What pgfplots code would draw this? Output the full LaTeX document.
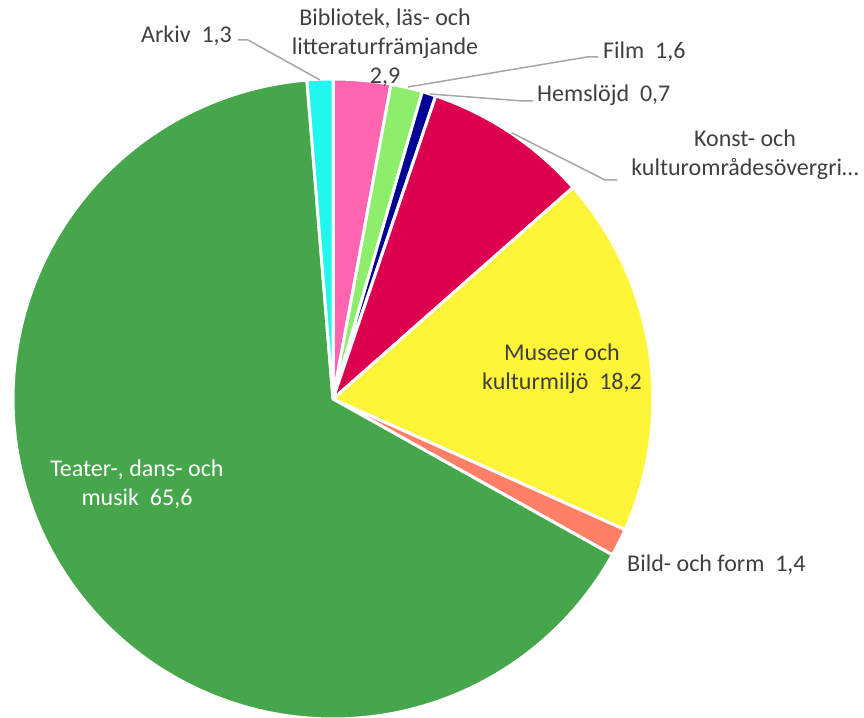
\documentclass[border=0pt]{standalone}
\usepackage{pgfplots}
\pgfplotsset{compat=1.18}
\usepackage{fontspec}
\setmainfont{Carlito}
\definecolor{cBib}{HTML}{FF66B2}
\definecolor{cFilm}{HTML}{8CEE6A}
\definecolor{cHem}{HTML}{000096}
\definecolor{cKonst}{HTML}{DC004E}
\definecolor{cMus}{HTML}{FFF538}
\definecolor{cBild}{HTML}{FF8066}
\definecolor{cTeat}{HTML}{46A64B}
\definecolor{cArk}{HTML}{20F7EE}
\definecolor{txt}{HTML}{404040}
\definecolor{lead}{HTML}{A6A6A6}
% values (percent), clockwise from 12 o'clock
\def\vBib{2.9}\def\vFilm{1.6}\def\vHem{0.7}\def\vKonst{8.3}
\def\vMus{18.2}\def\vBild{1.4}\def\vTeat{65.6}\def\vArk{1.3}
\pgfmathsetmacro\aA{90}
\pgfmathsetmacro\aB{\aA-3.6*\vBib}
\pgfmathsetmacro\aC{\aB-3.6*\vFilm}
\pgfmathsetmacro\aD{\aC-3.6*\vHem}
\pgfmathsetmacro\aE{\aD-3.6*\vKonst}
\pgfmathsetmacro\aF{\aE-3.6*\vMus}
\pgfmathsetmacro\aG{\aF-3.6*\vBild}
\pgfmathsetmacro\aH{\aG-3.6*\vTeat}
\pgfmathsetmacro\aI{\aH-3.6*\vArk}
\def\R{320}
\begin{document}
\begin{tikzpicture}
\useasboundingbox (0,0) rectangle (864bp,718bp);
\begin{axis}[
  at={(0,0)}, anchor=south west,
  width=864bp, height=718bp, scale only axis,
  xmin=-333, xmax=531, ymin=-319, ymax=399,
  hide axis, clip=false,
  every axis plot/.append style={line join=round},
]
\pgfplotsset{slice/.style={fill=#1, draw=white, line width=3bp, variable=\t, samples=120}}
\addplot[slice=cBib, domain=\aB:\aA] ({\R*cos(\t)},{\R*sin(\t)}) -- (axis cs:0,0) -- cycle;
\addplot[slice=cFilm, domain=\aC:\aB] ({\R*cos(\t)},{\R*sin(\t)}) -- (axis cs:0,0) -- cycle;
\addplot[slice=cHem, domain=\aD:\aC] ({\R*cos(\t)},{\R*sin(\t)}) -- (axis cs:0,0) -- cycle;
\addplot[slice=cKonst, domain=\aE:\aD] ({\R*cos(\t)},{\R*sin(\t)}) -- (axis cs:0,0) -- cycle;
\addplot[slice=cMus, domain=\aF:\aE] ({\R*cos(\t)},{\R*sin(\t)}) -- (axis cs:0,0) -- cycle;
\addplot[slice=cBild, domain=\aG:\aF] ({\R*cos(\t)},{\R*sin(\t)}) -- (axis cs:0,0) -- cycle;
\addplot[slice=cTeat, domain=\aH:\aG, samples=240] ({\R*cos(\t)},{\R*sin(\t)}) -- (axis cs:0,0) -- cycle;
\addplot[slice=cArk, domain=\aI:\aH] ({\R*cos(\t)},{\R*sin(\t)}) -- (axis cs:0,0) -- cycle;
% leader lines
\addplot[lead, line width=1.5bp, no marks] coordinates {(-13,319) (-85,359) (-95,359)};
\addplot[lead, line width=1.5bp, no marks] coordinates {(75,312) (254,342) (265,342)};
\addplot[lead, line width=1.5bp, no marks] coordinates {(97,305) (190,298) (200,298)};
\addplot[lead, line width=1.5bp, no marks] coordinates {(179,266) (272,219) (284,219)};
% labels
\begin{scope}[every node/.style={font=\fontsize{24bp}{29bp}\selectfont, text=txt, inner sep=0pt, align=center}]
\node[anchor=east] at (axis cs:-101,363) {Arkiv\ \ 1,3};
\node at (axis cs:52,351) {Bibliotek, läs- och\\litteraturfrämjande\\2,9};
\node[anchor=west] at (axis cs:270,347) {Film\ \ 1,6};
\node[anchor=west] at (axis cs:204,304) {Hemslöjd\ \ 0,7};
\node at (axis cs:412,244) {Konst- och\\kulturområdesövergri…};
\node at (axis cs:229,30) {Museer och\\kulturmiljö\ \ 18,2};
\node[anchor=west] at (axis cs:294,-166) {Bild- och form\ \ 1,4};
\node[text=white] at (axis cs:-196,-85) {Teater-, dans- och\\musik\ \ 65,6};
\end{scope}
\end{axis}
\end{tikzpicture}
\end{document}
